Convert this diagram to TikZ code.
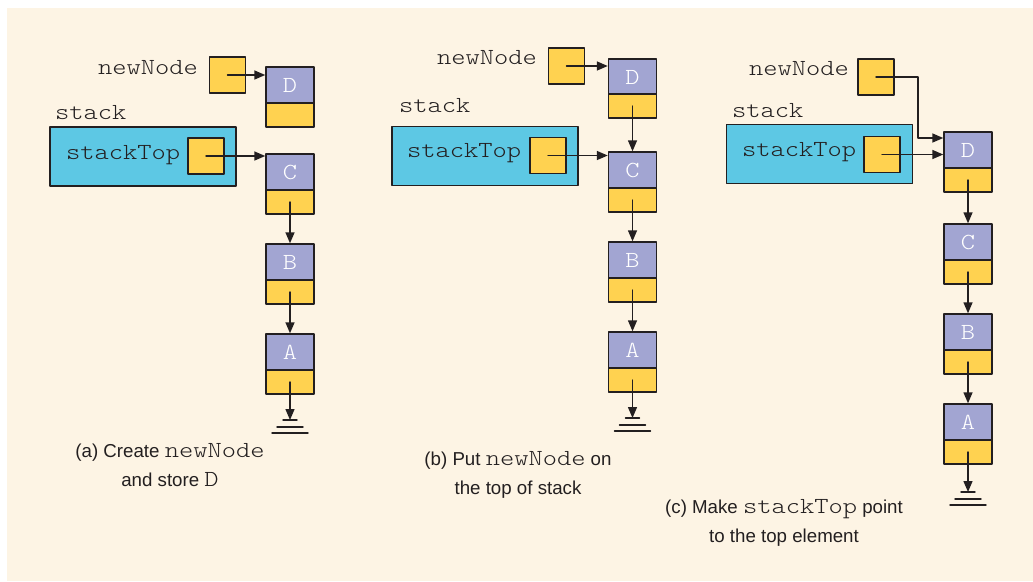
\documentclass[tikz,border=0pt]{standalone}
\usepackage{fontspec}
\setmainfont{Liberation Sans}
\newfontfamily\codefont{lmmonolt10-regular.otf}[FakeStretch=1.18]
\usetikzlibrary{arrows.meta}
\newcommand{\cdfont}{\codefont\fontsize{23}{27}\selectfont}
\newcommand{\cpfont}{\fontsize{18.7}{29}\selectfont}
\definecolor{crmcrm}{rgb}{0.99216,0.95686,0.89412}
\definecolor{cycycy}{rgb}{0.36471,0.78431,0.89412}
\definecolor{ylylyl}{rgb}{1,0.82353,0.31373}
\definecolor{lvlvlv}{rgb}{0.63529,0.64706,0.82353}
\definecolor{dkdkdk}{rgb}{0.13725,0.12157,0.12549}

\begin{document}
\begin{tikzpicture}[x=1pt,y=-1pt,line cap=round,line join=round,
  ptr/.style={draw=dkdkdk,line width=1.4pt,fill=ylylyl,minimum width=36pt,minimum height=36pt,inner sep=0pt},
  data/.style={draw=dkdkdk,line width=1.4pt,fill=lvlvlv,minimum width=48pt,minimum height=36pt,inner sep=0pt,text=white,font=\cdfont},
  link/.style={draw=dkdkdk,line width=1.4pt,fill=ylylyl,minimum width=48pt,minimum height=24pt,inner sep=0pt},
  holder/.style={draw=dkdkdk,line width=1.4pt,fill=cycycy,minimum width=186pt,minimum height=59pt,inner sep=0pt},
  word/.style={inner sep=0pt,anchor=west,text=dkdkdk,font=\cdfont},
  caption/.style={inner sep=0pt,align=center,text=dkdkdk,font=\cpfont},
  ref/.style={line width=1.4pt,draw=dkdkdk,-{Triangle[length=11pt,width=9pt]}},
  earth/.style={line width=1.4pt,draw=dkdkdk}]
  \useasboundingbox (0,0) rectangle (1033,581);
  \fill[crmcrm] (7,8) rectangle (1033,581);

  \node[word] (nnA) at (98,68) {newNode};
  \node[ptr] (npA) at (227.5,75) {};
  \node[data] (dDa) at (290,85) {D};
  \node[link] (lDa) at (290,115) {};
  \node[word] (skA) at (55,113) {stack};
  \node[holder] (hA) at (143,156.5) {};
  \node[word] (stA) at (66,155) {stackTop};
  \node[ptr] (spA) at (206,156) {};
  \node[data] (dCa) at (290,172) {C};
  \node[link] (lCa) at (290,202) {};
  \node[data] (dBa) at (290,262) {B};
  \node[link] (lBa) at (290,292) {};
  \node[data] (dAa) at (290,352) {A};
  \node[link] (lAa) at (290,382) {};
  \coordinate (gA) at (290,420);
  \draw[ref] (npA.center) -- (npA.center -| dDa.west);
  \draw[ref] (spA.center) -- (spA.center -| dCa.west);
  \draw[ref] (lCa.center) -- (dBa.north);
  \draw[ref] (lBa.center) -- (dAa.north);
  \draw[ref] (lAa.center) -- (gA);
  \draw[earth] ([xshift=-7pt]gA) -- ([xshift=7pt]gA);
  \draw[earth] ([xshift=-13pt,yshift=-7pt]gA) -- ([xshift=13pt,yshift=-7pt]gA);
  \draw[earth] ([xshift=-18pt,yshift=-13pt]gA) -- ([xshift=18pt,yshift=-13pt]gA);
  \node[caption] (capA) at (170,465) {(a) Create {\cdfont newNode}\\and store {\cdfont D}};

  \node[word] (nnB) at (437,58) {newNode};
  \node[ptr] (npB) at (566.5,66) {};
  \node[data] (dDb) at (632.5,77) {D};
  \node[link] (lDb) at (632.5,106) {};
  \node[word] (skB) at (399,106) {stack};
  \node[holder] (hB) at (485,156) {};
  \node[word] (stB) at (407,153) {stackTop};
  \node[ptr] (spB) at (548,155.5) {};
  \node[data] (dCb) at (632.5,170) {C};
  \node[link] (lCb) at (632.5,200) {};
  \node[data] (dBb) at (632.5,260) {B};
  \node[link] (lBb) at (632.5,290) {};
  \node[data] (dAb) at (632.5,350) {A};
  \node[link] (lAb) at (632.5,380) {};
  \coordinate (gB) at (632.5,418);
  \draw[ref] (npB.center) -- (npB.center -| dDb.west);
  \draw[ref] (lDb.center) -- (dCb.north);
  \draw[ref] (spB.center) -- (spB.center -| dCb.west);
  \draw[ref] (lCb.center) -- (dBb.north);
  \draw[ref] (lBb.center) -- (dAb.north);
  \draw[ref] (lAb.center) -- (gB);
  \draw[earth] ([xshift=-7pt]gB) -- ([xshift=7pt]gB);
  \draw[earth] ([xshift=-13pt,yshift=-7pt]gB) -- ([xshift=13pt,yshift=-7pt]gB);
  \draw[earth] ([xshift=-18pt,yshift=-13pt]gB) -- ([xshift=18pt,yshift=-13pt]gB);
  \node[caption] (capB) at (518,474.5) {(b) Put {\cdfont newNode} on\\the top of stack};

  \node[word] (nnC) at (749,69) {newNode};
  \node[ptr] (npC) at (876,77) {};
  \node[word] (skC) at (732,111) {stack};
  \node[holder] (hC) at (819.5,154) {};
  \node[word] (stC) at (742,152) {stackTop};
  \node[ptr] (spC) at (882,154.5) {};
  \node[data] (dDc) at (968,150) {D};
  \node[link] (lDc) at (968,180) {};
  \node[data] (dCc) at (968,242) {C};
  \node[link] (lCc) at (968,272) {};
  \node[data] (dBc) at (968,332) {B};
  \node[link] (lBc) at (968,362) {};
  \node[data] (dAc) at (968,422) {A};
  \node[link] (lAc) at (968,452) {};
  \coordinate (bendC) at (918,138);
  \coordinate (gC) at (968,492);
  \draw[ref] (npC.center) -- (npC.center -| bendC) -- (bendC) -- (bendC -| dDc.west);
  \draw[ref] (spC.center) -- (spC.center -| dDc.west);
  \draw[ref] (lDc.center) -- (dCc.north);
  \draw[ref] (lCc.center) -- (dBc.north);
  \draw[ref] (lBc.center) -- (dAc.north);
  \draw[ref] (lAc.center) -- (gC);
  \draw[earth] ([xshift=-7pt]gC) -- ([xshift=7pt]gC);
  \draw[earth] ([xshift=-13pt,yshift=-7pt]gC) -- ([xshift=13pt,yshift=-7pt]gC);
  \draw[earth] ([xshift=-18pt,yshift=-13pt]gC) -- ([xshift=18pt,yshift=-13pt]gC);
  \node[caption] (capC) at (784,522.5) {(c) Make {\cdfont stackTop} point\\to the top element};
\end{tikzpicture}
\end{document}
